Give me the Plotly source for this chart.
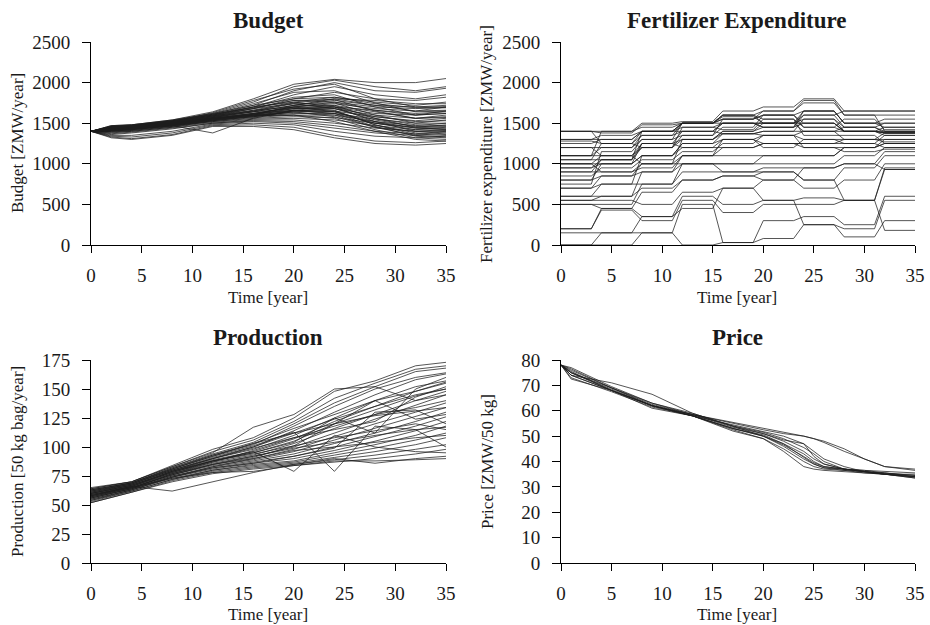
import plotly.graph_objects as go

# ---------------- data ----------------
budget_years = [0, 2, 4, 8, 12, 16, 20, 24, 28, 32, 35]
budget_runs = [
    [1400, 1470, 1480, 1540, 1640, 1800, 1980, 2040, 2000, 2000, 2050],
    [1400, 1460, 1470, 1530, 1620, 1760, 1950, 2030, 1950, 1900, 1950],
    [1400, 1450, 1460, 1520, 1600, 1720, 1900, 2000, 1900, 1880, 1930],
    [1400, 1440, 1460, 1510, 1590, 1700, 1850, 1950, 1850, 1800, 1850],
    [1400, 1430, 1450, 1500, 1580, 1680, 1800, 1880, 1800, 1780, 1820],
    [1400, 1420, 1440, 1490, 1570, 1660, 1760, 1820, 1760, 1720, 1760],
    [1400, 1440, 1450, 1500, 1570, 1640, 1720, 1780, 1720, 1700, 1720],
    [1400, 1420, 1440, 1490, 1560, 1620, 1700, 1740, 1680, 1650, 1700],
    [1400, 1410, 1430, 1480, 1550, 1610, 1680, 1700, 1620, 1600, 1650],
    [1400, 1430, 1440, 1490, 1560, 1600, 1650, 1680, 1600, 1560, 1600],
    [1400, 1420, 1430, 1480, 1540, 1590, 1640, 1650, 1580, 1530, 1560],
    [1400, 1400, 1420, 1470, 1530, 1580, 1620, 1620, 1550, 1500, 1540],
    [1400, 1410, 1430, 1470, 1520, 1570, 1600, 1600, 1520, 1470, 1500],
    [1400, 1390, 1410, 1460, 1520, 1560, 1580, 1570, 1500, 1450, 1480],
    [1400, 1380, 1400, 1450, 1510, 1550, 1560, 1540, 1470, 1420, 1450],
    [1400, 1370, 1390, 1440, 1500, 1540, 1540, 1500, 1440, 1400, 1420],
    [1400, 1360, 1380, 1430, 1500, 1530, 1520, 1470, 1400, 1370, 1400],
    [1400, 1350, 1350, 1400, 1490, 1520, 1500, 1440, 1380, 1350, 1380],
    [1400, 1340, 1330, 1380, 1480, 1500, 1480, 1400, 1340, 1320, 1340],
    [1400, 1330, 1310, 1360, 1470, 1480, 1450, 1350, 1280, 1260, 1280],
    [1400, 1320, 1300, 1350, 1460, 1460, 1420, 1320, 1250, 1230, 1250],
    [1400, 1450, 1460, 1520, 1630, 1780, 1920, 1980, 1800, 1700, 1700],
    [1400, 1440, 1450, 1510, 1610, 1740, 1880, 1900, 1750, 1640, 1650],
    [1400, 1460, 1470, 1530, 1600, 1700, 1820, 1850, 1700, 1600, 1620],
    [1400, 1430, 1440, 1500, 1590, 1680, 1780, 1790, 1650, 1560, 1580],
    [1400, 1420, 1430, 1490, 1580, 1650, 1740, 1750, 1600, 1500, 1500],
    [1400, 1410, 1420, 1480, 1570, 1640, 1720, 1720, 1560, 1450, 1440],
    [1400, 1400, 1420, 1470, 1560, 1620, 1700, 1700, 1520, 1400, 1400],
    [1400, 1410, 1420, 1470, 1380, 1560, 1660, 1650, 1480, 1380, 1360],
    [1400, 1430, 1440, 1490, 1560, 1600, 1630, 1600, 1450, 1350, 1330],
    [1400, 1420, 1430, 1480, 1550, 1590, 1600, 1560, 1420, 1320, 1300],
    [1400, 1440, 1450, 1500, 1560, 1600, 1600, 1520, 1400, 1300, 1280],
    [1400, 1430, 1440, 1480, 1540, 1580, 1640, 1580, 1450, 1400, 1380],
    [1400, 1420, 1430, 1470, 1530, 1580, 1650, 1620, 1500, 1440, 1420],
    [1400, 1450, 1460, 1510, 1590, 1650, 1750, 1800, 1720, 1650, 1660],
    [1400, 1470, 1480, 1530, 1610, 1700, 1760, 1700, 1580, 1520, 1530],
    [1400, 1460, 1470, 1520, 1600, 1680, 1740, 1680, 1560, 1480, 1470],
    [1400, 1450, 1470, 1520, 1590, 1660, 1700, 1640, 1520, 1440, 1430],
    [1400, 1440, 1460, 1510, 1580, 1640, 1680, 1720, 1640, 1560, 1570],
    [1400, 1430, 1450, 1500, 1570, 1620, 1660, 1700, 1660, 1600, 1620],
    [1400, 1420, 1440, 1500, 1560, 1610, 1700, 1760, 1700, 1680, 1690],
    [1400, 1410, 1430, 1490, 1550, 1600, 1720, 1800, 1780, 1740, 1740],
    [1400, 1460, 1480, 1540, 1620, 1720, 1800, 1820, 1740, 1690, 1700],
    [1400, 1450, 1470, 1530, 1610, 1690, 1780, 1760, 1660, 1620, 1640],
    [1400, 1400, 1410, 1460, 1540, 1600, 1680, 1680, 1540, 1460, 1460],
    [1400, 1390, 1400, 1450, 1530, 1590, 1660, 1640, 1500, 1420, 1410],
    [1400, 1420, 1440, 1480, 1550, 1620, 1690, 1660, 1480, 1360, 1350],
    [1400, 1410, 1430, 1470, 1540, 1610, 1660, 1620, 1460, 1340, 1320],
]

# fertilizer: one level per 4-year decision block
fert_block_start = [0, 4, 8, 12, 16, 20, 24, 28, 32]
fert_block_end = [3, 7, 11, 15, 19, 23, 27, 31, 35]
fert_runs = [
    [1400, 1400, 1500, 1520, 1650, 1700, 1800, 1650, 1650],
    [1400, 1380, 1480, 1500, 1600, 1650, 1780, 1600, 1600],
    [1300, 1300, 1400, 1500, 1550, 1600, 1650, 1500, 1550],
    [1280, 1250, 1400, 1450, 1500, 1500, 1600, 1450, 1500],
    [1200, 1200, 1350, 1400, 1500, 1450, 1500, 1400, 1450],
    [1100, 1100, 1250, 1400, 1370, 1400, 1400, 1400, 1400],
    [1050, 1050, 1250, 1300, 1370, 1350, 1300, 1300, 1380],
    [1000, 1000, 1100, 1250, 1300, 1250, 1250, 1250, 1350],
    [950, 1000, 1100, 1200, 1200, 1250, 1200, 1200, 1300],
    [900, 900, 950, 1100, 1100, 1100, 1100, 1200, 1250],
    [800, 850, 900, 1000, 1000, 1000, 1000, 1100, 1200],
    [700, 750, 750, 900, 900, 950, 950, 1000, 1150],
    [600, 600, 700, 800, 850, 900, 800, 950, 1100],
    [550, 550, 500, 650, 700, 800, 700, 800, 1000],
    [500, 450, 350, 600, 500, 550, 580, 550, 950],
    [200, 430, 300, 550, 400, 500, 500, 550, 930],
    [150, 150, 150, 500, 30, 300, 350, 250, 600],
    [0, 0, 150, 0, 30, 80, 250, 200, 550],
    [1400, 1250, 1350, 1500, 1500, 1500, 1500, 1400, 1380],
    [1100, 1400, 1450, 1500, 1550, 1650, 1750, 1600, 1400],
    [1000, 1100, 1000, 1100, 1300, 1350, 1400, 1300, 1300],
    [900, 1050, 1200, 1300, 1400, 1450, 1650, 1500, 1450],
    [600, 750, 1100, 1250, 1370, 1400, 1550, 1450, 1380],
    [500, 500, 750, 1000, 1000, 1100, 1100, 1200, 1250],
    [1300, 1350, 1400, 1500, 1600, 1550, 1450, 1400, 1350],
    [800, 1000, 1250, 1200, 1300, 1200, 1300, 1250, 1200],
    [550, 600, 900, 1100, 1200, 1250, 1250, 1300, 1270],
    [200, 450, 650, 800, 850, 800, 950, 1000, 930],
    [0, 150, 350, 450, 700, 550, 250, 100, 300],
    [1250, 1300, 1400, 1400, 1500, 1450, 1600, 1650, 1650],
    [1000, 900, 1000, 1300, 1400, 1500, 1400, 1450, 1400],
    [1100, 1200, 1300, 1500, 1600, 1500, 1650, 1500, 1500],
    [700, 850, 1000, 1000, 900, 900, 800, 550, 180],
    [1200, 1100, 1200, 1350, 1450, 1600, 1500, 1400, 1380],
    [950, 1050, 1400, 1500, 1580, 1500, 1550, 1400, 1380],
    [1050, 1250, 1200, 1450, 1420, 1550, 1350, 1350, 1250],
    [850, 950, 1050, 1150, 1250, 1350, 1200, 1150, 1180],
    [750, 1150, 1300, 1350, 1550, 1600, 1450, 1550, 1420],
]

prod_years = [0, 4, 8, 12, 16, 20, 24, 28, 32, 35]
prod_runs = [
    [65, 70, 84, 98, 108, 125, 148, 157, 170, 173],
    [64, 70, 83, 96, 106, 122, 142, 155, 167, 170],
    [63, 69, 82, 94, 104, 120, 138, 152, 165, 168],
    [62, 69, 81, 93, 102, 118, 135, 150, 160, 164],
    [62, 68, 80, 91, 100, 114, 130, 145, 158, 163],
    [61, 68, 80, 90, 98, 110, 125, 140, 152, 157],
    [60, 67, 79, 89, 96, 107, 122, 135, 148, 155],
    [60, 67, 78, 88, 95, 105, 120, 132, 144, 150],
    [59, 66, 78, 87, 93, 103, 116, 128, 140, 148],
    [58, 66, 77, 86, 92, 100, 112, 124, 136, 145],
    [58, 65, 77, 85, 90, 98, 109, 120, 130, 138],
    [57, 65, 76, 84, 89, 96, 106, 116, 126, 134],
    [56, 64, 75, 83, 88, 94, 103, 112, 122, 130],
    [56, 64, 75, 82, 87, 92, 100, 109, 118, 126],
    [55, 63, 74, 81, 86, 90, 97, 105, 114, 122],
    [54, 63, 73, 80, 85, 88, 95, 102, 110, 118],
    [54, 62, 72, 80, 84, 87, 93, 99, 106, 112],
    [53, 62, 72, 79, 83, 86, 91, 96, 102, 108],
    [52, 61, 71, 78, 82, 85, 89, 93, 98, 102],
    [52, 61, 70, 77, 81, 84, 87, 90, 94, 98],
    [60, 66, 62, 70, 78, 85, 90, 86, 90, 92],
    [59, 65, 73, 78, 79, 84, 88, 88, 89, 90],
    [61, 67, 79, 88, 96, 79, 110, 100, 96, 95],
    [63, 69, 81, 92, 101, 113, 79, 118, 115, 100],
    [57, 65, 76, 85, 91, 101, 120, 140, 124, 128],
    [58, 66, 78, 88, 95, 104, 125, 112, 150, 160],
    [64, 70, 83, 95, 117, 128, 150, 152, 140, 145],
    [55, 63, 74, 82, 86, 92, 99, 130, 132, 120],
    [62, 68, 80, 90, 99, 108, 115, 122, 143, 152],
    [60, 67, 79, 88, 94, 101, 108, 114, 120, 115],
    [61, 68, 81, 92, 103, 116, 128, 140, 148, 156],
    [59, 66, 79, 90, 100, 112, 124, 135, 145, 150],
    [57, 64, 77, 87, 97, 108, 118, 128, 134, 140],
    [63, 69, 82, 93, 103, 112, 120, 127, 131, 134],
    [58, 65, 76, 85, 92, 99, 104, 110, 115, 117],
    [56, 64, 74, 83, 90, 97, 100, 104, 108, 110],
]

price_years = [0, 1, 5, 9, 13, 17, 20, 22, 24, 25, 26, 28, 30, 32, 35]
price_runs = [
    [78, 75, 68, 62, 58, 52.5, 49, 45, 40, 38, 37, 36.5, 36, 35, 34],
    [78, 74, 68, 62, 58, 53, 50, 46, 41, 39, 37.5, 36.5, 35.5, 35, 33.5],
    [78, 73, 67.5, 61.5, 58, 53, 50.5, 47, 43, 40, 38, 37, 36, 35.5, 34],
    [78, 76, 69, 62.5, 58.5, 53.5, 51, 48, 44, 41, 39, 37, 36, 35, 34],
    [78, 77, 69.5, 63, 58.5, 54, 51.5, 49, 45.5, 43, 40, 37, 36.5, 35.5, 34.5],
    [78, 75, 68.5, 62, 58, 54.5, 52, 50, 47, 44, 41, 38, 36, 35, 34],
    [78, 75, 69, 62, 58.5, 55, 52.5, 51, 50, 49, 47.5, 44, 41, 38, 36.5],
    [78, 74, 68, 62, 58.5, 55.5, 53, 51.5, 50, 49, 48, 45, 41, 38, 37],
    [78, 72.5, 68, 61, 58, 52, 49, 44, 38, 37, 36.5, 36, 35.5, 35, 33.5],
    [78, 74, 71, 66.5, 59, 54, 50, 47, 41.5, 39, 37.5, 37, 36, 35.5, 34.5],
    [78, 76.5, 69, 63, 59, 54, 51, 48.5, 47, 42, 39, 37, 36, 35, 35],
    [78, 75.5, 68, 62, 58, 53, 50, 46.5, 42, 39.5, 38, 37, 36.5, 36, 35.5],
]

x_ticks = [0, 5, 10, 15, 20, 25, 30, 35]
budget_ticks = [0, 500, 1000, 1500, 2000, 2500]
fert_ticks = [0, 500, 1000, 1500, 2000, 2500]
prod_ticks = [0, 25, 50, 75, 100, 125, 150, 175]
price_ticks = [0, 10, 20, 30, 40, 50, 60, 70, 80]

# ---------------- helpers ----------------
LINE = dict(color="#1e1e1e", width=0.75)
FONT = "Liberation Serif, Times New Roman, serif"


def join_runs(xs_list, ys_list):
    X, Y = [], []
    for xs, ys in zip(xs_list, ys_list):
        X.extend(xs + [None])
        Y.extend(ys + [None])
    return X, Y


fig = go.Figure()

bx, by = join_runs([budget_years] * len(budget_runs), budget_runs)
fig.add_trace(go.Scatter(x=bx, y=by, mode="lines", line=LINE, xaxis="x", yaxis="y",
                         showlegend=False, hoverinfo="skip"))

fx_list, fy_list = [], []
for run in fert_runs:
    xs, ys = [], []
    for s, e, v in zip(fert_block_start, fert_block_end, run):
        xs += [s, e]
        ys += [v, v]
    fx_list.append(xs)
    fy_list.append(ys)
fx, fy = join_runs(fx_list, fy_list)
fig.add_trace(go.Scatter(x=fx, y=fy, mode="lines", line=LINE, xaxis="x2", yaxis="y2",
                         showlegend=False, hoverinfo="skip"))

px_, py_ = join_runs([prod_years] * len(prod_runs), prod_runs)
fig.add_trace(go.Scatter(x=px_, y=py_, mode="lines", line=LINE, xaxis="x3", yaxis="y3",
                         showlegend=False, hoverinfo="skip"))

qx, qy = join_runs([price_years] * len(price_runs), price_runs)
fig.add_trace(go.Scatter(x=qx, y=qy, mode="lines", line=LINE, xaxis="x4", yaxis="y4",
                         showlegend=False, hoverinfo="skip"))

W, H = 930, 625
# pixel layout
left_dom = [91 / W, 446 / W]
right_dom = [561 / W, 915 / W]
top_dom = [1 - 245 / H, 1 - 42 / H]
bot_dom = [1 - 563 / H, 1 - 360 / H]

common_x = dict(range=[0, 35], tickvals=x_ticks, showline=True, linecolor="black", linewidth=1,
                ticks="outside", ticklen=7, tickcolor="black", tickwidth=1, automargin=False,
                showgrid=False, zeroline=False, tickfont=dict(family=FONT, size=19, color="#1a1a1a"),
                ticklabelstandoff=6, fixedrange=True)
common_y = dict(showline=True, linecolor="black", linewidth=1, automargin=False,
                ticks="outside", ticklen=8, tickcolor="black", tickwidth=1,
                showgrid=False, zeroline=False, tickfont=dict(family=FONT, size=19, color="#1a1a1a"),
                ticklabelstandoff=8, fixedrange=True)

fig.update_layout(
    width=W, height=H,
    autosize=False,
    margin=dict(l=0, r=0, t=0, b=0, pad=0, autoexpand=False),
    paper_bgcolor="white", plot_bgcolor="white",
    showlegend=False,
    xaxis=dict(domain=left_dom, anchor="y", **common_x),
    yaxis=dict(domain=top_dom, anchor="x", range=[0, 2500], tickvals=budget_ticks, **common_y),
    xaxis2=dict(domain=right_dom, anchor="y2", **common_x),
    yaxis2=dict(domain=top_dom, anchor="x2", range=[0, 2500], tickvals=fert_ticks, **common_y),
    xaxis3=dict(domain=left_dom, anchor="y3", **common_x),
    yaxis3=dict(domain=bot_dom, anchor="x3", range=[0, 175], tickvals=prod_ticks, **common_y),
    xaxis4=dict(domain=right_dom, anchor="y4", **common_x),
    yaxis4=dict(domain=bot_dom, anchor="x4", range=[0, 80], tickvals=price_ticks, **common_y),
)

ann = []


def txt(x, y, s, size, bold=False, angle=0):
    ann.append(dict(x=x / W, y=1 - y / H, xref="paper", yref="paper", text=s, showarrow=False,
                    xanchor="center", yanchor="middle", textangle=angle,
                    font=dict(family=FONT, size=size, color="#1a1a1a",
                              weight="bold" if bold else "normal")))


# titles
txt(268, 20, "Budget", 23, bold=True)
txt(737, 20, "Fertilizer Expenditure", 23, bold=True)
txt(268, 337, "Production", 23, bold=True)
txt(737, 337, "Price", 23, bold=True)
# x-axis titles
txt(268, 297, "Time [year]", 17)
txt(737, 297, "Time [year]", 17)
txt(268, 614, "Time [year]", 17)
txt(737, 614, "Time [year]", 17)
# y-axis titles
txt(17, 143, "Budget [ZMW/year]", 17, angle=-90)
txt(487, 144, "Fertilizer expenditure [ZMW/year]", 17, angle=-90)
txt(17, 462, "Production [50 kg bag/year]", 17, angle=-90)
txt(487, 462, "Price [ZMW/50 kg]", 17, angle=-90)

fig.update_layout(annotations=ann)

fig.write_html("out.html", config={"responsive": False, "displayModeBar": False},
               post_script="document.body.style.margin='0';document.body.style.overflow='hidden';")
